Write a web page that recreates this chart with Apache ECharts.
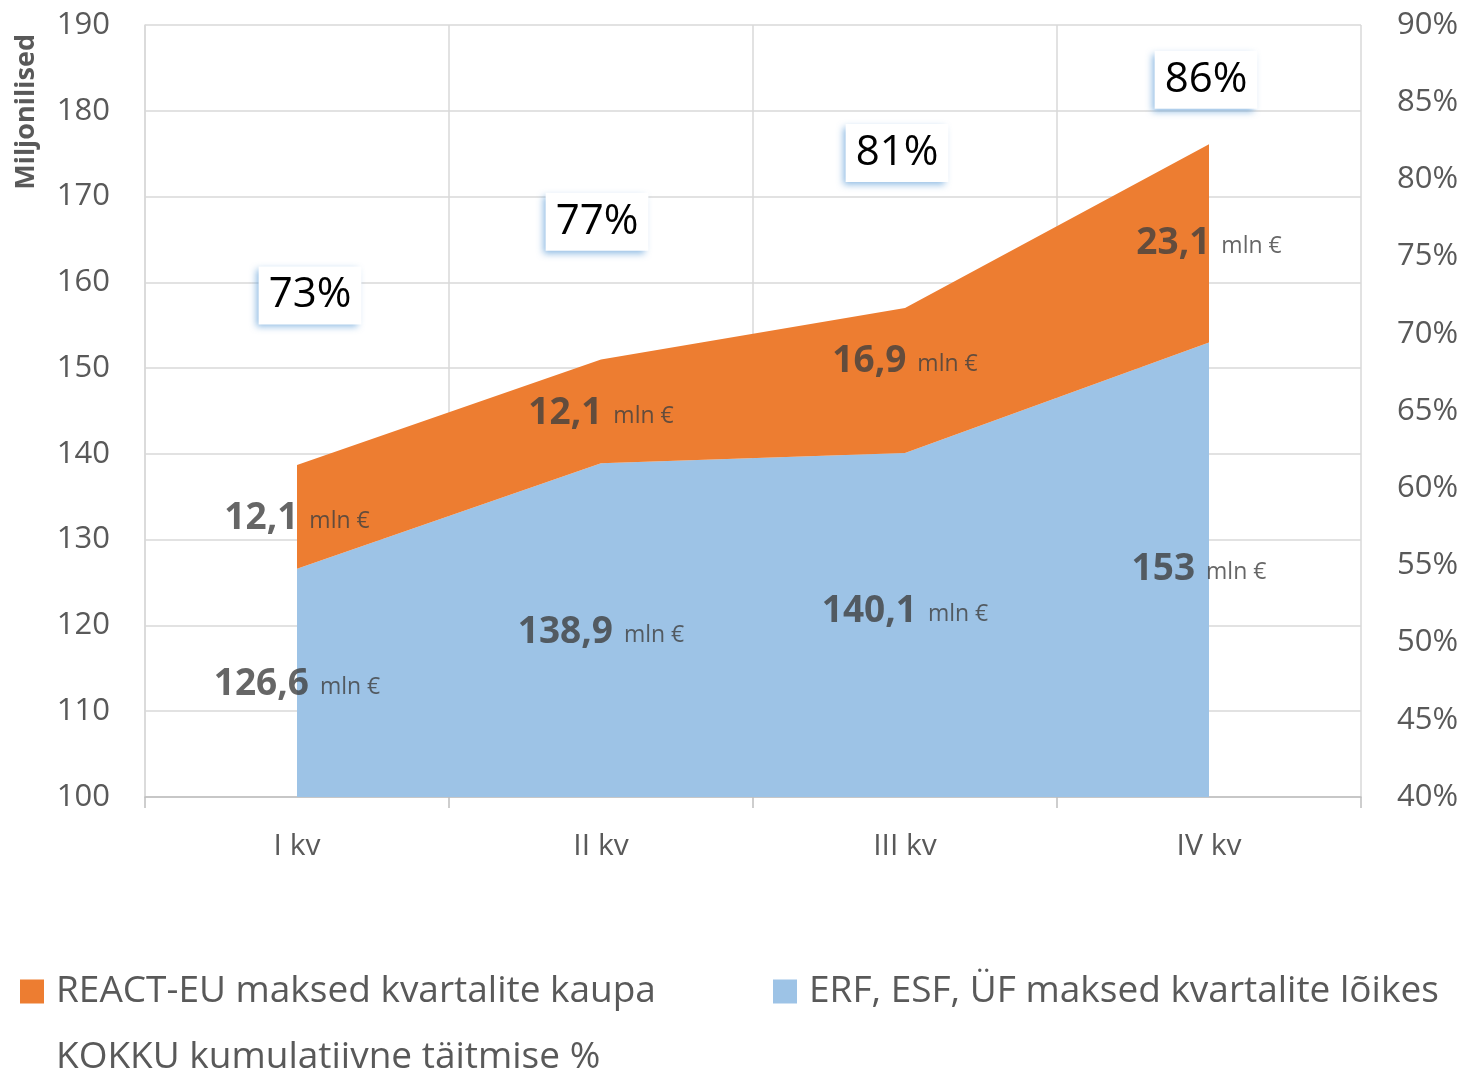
<!DOCTYPE html>
<html>
<head>
<meta charset="utf-8">
<script src="https://cdn.jsdelivr.net/npm/echarts@6/dist/echarts.min.js"></script>
<style>
html, body { margin: 0; padding: 0; background: #fff; }
#main { width: 1465px; height: 1071px; }
</style>
</head>
<body>
<div id="main"></div>
<script>
// andmed
var kvartalid = ['I kv', 'II kv', 'III kv', 'IV kv'];
var erfMaksed = [126.6, 138.9, 140.1, 153];      // ERF, ESF, ÜF
var reactMaksed = [12.1, 12.1, 16.9, 23.1];      // REACT-EU
var taitmine = [73, 77, 81, 86];                 // KOKKU kumulatiivne %

var nimed = ['REACT-EU maksed kvartalite kaupa', 'ERF, ESF, ÜF maksed kvartalite lõikes', 'KOKKU kumulatiivne täitmise %'];

var font = 'Open Sans';
var hall = '#595959';

function koma(v) {
	return String(v).replace('.', ',');
}

// siltide asukohad ribade keskel (teljel min = 100)
var erfKesk = erfMaksed.map(function (v) { return 100 + (v - 100) / 2; });
var reactKesk = reactMaksed.map(function (v, i) { return erfMaksed[i] + v / 2; });

// väikesed nihked nagu Exceli joonisel
var erfNihe = [[0, 2], [0, 2], [0, -14], [-10, 0]];
var reactNihe = [[0, 2], [0, 2], [0, -19], [0, 0]];
var protsNihe = [[13, 8], [-4, -4], [-8, -11], [-3, -7]];

var summaSilt = function (arr) {
	return {
		show: true,
		position: 'inside',
		color: '#404040',
		fontFamily: font,
		formatter: function (p) {
			return '{b|' + koma(arr[p.dataIndex]) + '}{u|mln €}';
		},
		rich: {
			b: { fontSize: 37, fontWeight: 'bold', color: '#404040', fontFamily: font },
			u: { fontSize: 23, color: '#404040', fontFamily: font, padding: [6, 0, 0, 11] }
		}
	};
};

function nihkega(arr, nihe) {
	return arr.map(function (v, i) {
		return { value: v, label: { offset: nihe[i] } };
	});
}

var myChart = echarts.init(document.getElementById('main'));

var legendStiil = { fontSize: 37, color: hall, fontFamily: font, padding: [0, 0, 0, 7] };

var option = {
	animation: false,
	textStyle: { fontFamily: font },
	grid: { left: 145, right: 104, top: 25, bottom: 274 },
	graphic: [{
		type: 'text',
		left: 13,
		top: 34,
		rotation: Math.PI / 2,
		style: {
			text: 'Miljonilised',
			font: 'bold 27px "Open Sans"',
			fill: hall
		}
	}],
	legend: [{
		left: 20, top: 973, padding: 0,
		itemWidth: 24, itemHeight: 24,
		textStyle: legendStiil,
		data: [{ name: nimed[0], icon: 'rect' }]
	}, {
		left: 773, top: 973, padding: 0,
		itemWidth: 24, itemHeight: 24,
		textStyle: legendStiil,
		data: [{ name: nimed[1], icon: 'rect' }]
	}, {
		left: 20, top: 1039, padding: 0,
		itemWidth: 24, itemHeight: 24,
		textStyle: legendStiil,
		data: [{ name: nimed[2], icon: 'rect', itemStyle: { color: 'rgba(0,0,0,0)' } }]
	}],
	xAxis: {
		type: 'category',
		data: kvartalid,
		boundaryGap: true,
		axisLine: { lineStyle: { color: '#bfbfbf', width: 1.5 } },
		axisTick: { show: true, length: 11, lineStyle: { color: '#bfbfbf', width: 1.5 } },
		axisLabel: { fontSize: 30, color: hall, margin: 34, fontFamily: font },
		splitLine: { show: true, lineStyle: { color: '#d9d9d9', width: 1.5 } }
	},
	yAxis: [{
		type: 'value',
		min: 100, max: 190, interval: 10,
		axisLine: { show: true, lineStyle: { color: '#d9d9d9', width: 1.5 } },
		axisTick: { show: false },
		axisLabel: { fontSize: 31, color: hall, margin: 35, fontFamily: font },
		splitLine: { show: true, lineStyle: { color: '#d9d9d9', width: 1.5 } }
	}, {
		type: 'value',
		min: 40, max: 90, interval: 5,
		axisLine: { show: false },
		axisTick: { show: false },
		axisLabel: { fontSize: 31, color: hall, margin: 36, fontFamily: font, formatter: '{value}%' },
		splitLine: { show: false }
	}],
	series: [{
		name: nimed[1],
		type: 'line',
		stack: 'maksed',
		data: erfMaksed,
		symbol: 'none',
		lineStyle: { width: 0 },
		itemStyle: { color: '#9dc3e6' },
		areaStyle: { color: '#9dc3e6', opacity: 1 },
		z: 2
	}, {
		name: nimed[0],
		type: 'line',
		stack: 'maksed',
		data: reactMaksed,
		symbol: 'none',
		lineStyle: { width: 0 },
		itemStyle: { color: '#ed7d31' },
		areaStyle: { color: '#ed7d31', opacity: 1 },
		z: 2
	}, {
		name: 'erfSilt',
		type: 'scatter',
		data: nihkega(erfKesk, erfNihe),
		symbolSize: 0,
		silent: true,
		label: summaSilt(erfMaksed),
		z: 5
	}, {
		name: 'reactSilt',
		type: 'scatter',
		data: nihkega(reactKesk, reactNihe),
		symbolSize: 0,
		silent: true,
		label: summaSilt(reactMaksed),
		z: 5
	}, {
		name: nimed[2],
		type: 'line',
		yAxisIndex: 1,
		data: nihkega(taitmine, protsNihe),
		symbol: 'circle',
		symbolSize: 1,
		itemStyle: { color: 'rgba(0,0,0,0)' },
		lineStyle: { width: 0, color: 'rgba(0,0,0,0)' },
		label: {
			show: true,
			position: 'inside',
			formatter: '{c}%',
			fontSize: 42,
			color: '#000',
			fontFamily: font,
			backgroundColor: '#fff',
			padding: [9, 10, 7, 10],
			shadowColor: 'rgba(91,155,213,0.7)',
			shadowBlur: 7,
			shadowOffsetX: -3,
			shadowOffsetY: 3
		},
		z: 10
	}]
};

myChart.setOption(option);
</script>
</body>
</html>
